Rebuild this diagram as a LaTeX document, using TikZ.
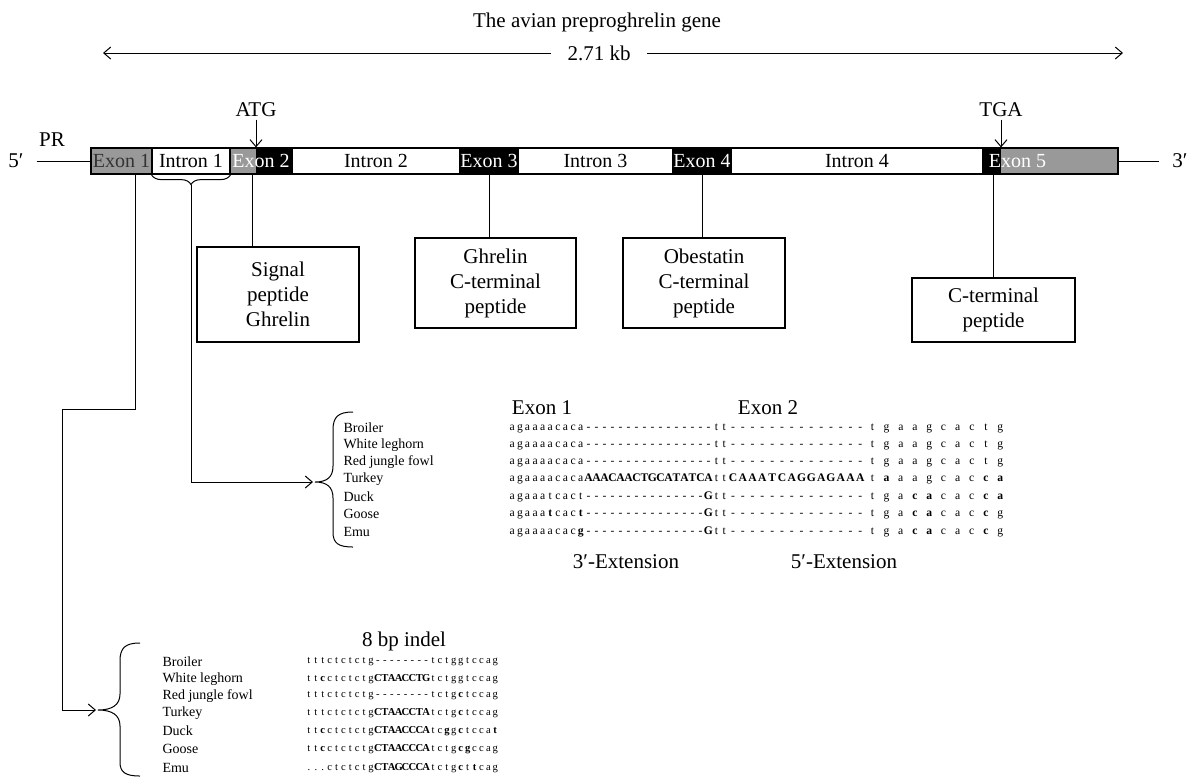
\documentclass[tikz,border=0pt]{standalone}
\usepackage{fontspec}
\setmainfont{Liberation Serif}
\usetikzlibrary{arrows.meta,decorations.pathreplacing}
\definecolor{exgray}{HTML}{999999}

% one character per fixed-width cell
\def\seqend{seqend}
\newcommand\seqs[2]{\def\seqw{#1}\seqloop#2\seqend}
\def\seqloop#1{\ifx\seqend#1\else\makebox[\seqw]{#1}\expandafter\seqloop\fi}
\newcommand\seqb[2]{\def\seqw{#1}\seqbloop#2\seqend}
\def\seqbloop#1{\ifx\seqend#1\else\makebox[\seqw]{\bfseries#1}\expandafter\seqbloop\fi}

\begin{document}
\begin{tikzpicture}[x=0.5pt,y=-0.5pt,line width=0.5pt,
  lbl/.style={font=\fontsize{10.5}{12.5}\selectfont},
  seg/.style={draw,line width=0.6pt,inner sep=0pt,minimum height=13pt,font=\fontsize{10}{12}\selectfont},
  pbox/.style={draw,line width=0.6pt,inner sep=0pt,align=center,lbl},
  arr/.style={-{Straight Barb[length=3.5pt,width=6pt]}},
  spname/.style={right,inner sep=0pt,font=\fontsize{7}{8}\selectfont},
  seqrow/.style={right,inner sep=0pt,font=\fontsize{5.8}{6}\selectfont},
  seqlow/.style={right,inner sep=0pt,font=\fontsize{5.3}{6}\selectfont}]
  \useasboundingbox (0,0) rectangle (1192,778);

  % title and gene length
  \node[lbl] (title) at (597,22) {The avian preproghrelin gene};
  \node[lbl,inner xsep=8pt] (len) at (599,53) {2.71 kb};
  \coordinate (lenl) at (103,53);
  \coordinate (lenr) at (1123,53);
  \draw[arr] (len.west) -- (lenl);
  \draw[arr] (len.east) -- (lenr);

  % gene bar
  \node[seg,fill=exgray,text=black!80,minimum width=30.5pt] (ex1) at (121.5,161) {Exon 1};
  \node[seg,minimum width=39pt] (in1) at (191,161) {Intron 1};
  \node[seg,fill=black,text=white,minimum width=31pt,
    path picture={\fill[exgray] (path picture bounding box.south west) rectangle ([xshift=13pt]path picture bounding box.north west);}] (ex2) at (261,161) {Exon 2};
  \node[seg,minimum width=84pt] (in2) at (376,161) {Intron 2};
  \node[seg,fill=black,text=white,minimum width=29pt] (ex3) at (489,161) {Exon 3};
  \node[seg,minimum width=77.5pt] (in3) at (595.5,161) {Intron 3};
  \node[seg,fill=black,text=white,minimum width=29pt] (ex4) at (702,161) {Exon 4};
  \node[seg,minimum width=126pt] (in4) at (857,161) {Intron 4};
  \node[seg,fill=exgray,minimum width=67.5pt,
    path picture={\fill[black] (path picture bounding box.south west) rectangle ([xshift=9pt]path picture bounding box.north west);}] (ex5) at (1050.5,161) {};
  \node[right,inner sep=0pt,text=white,font=\fontsize{10}{12}\selectfont] (ex5l) at ([xshift=3pt]ex5.west) {Exon 5};

  \node[lbl] (p5) at (16,161) {5′};
  \node[lbl] (p3) at (1180,161) {3′};
  \node[lbl] (pr) at (52,140) {PR};
  \draw ([xshift=3pt]p5.east) -- (ex1.west);
  \draw (ex5.east) -- ([xshift=-3pt]p3.west);

  \node[lbl,inner sep=1pt] (atg) at (256,110) {ATG};
  \node[lbl,inner sep=1pt] (tga) at (1001,110) {TGA};
  \draw[arr] (atg.south) -- (atg.south |- ex2.north);
  \draw[arr] (tga.south) -- (tga.south |- ex5.north);

  % peptide boxes
  \node[pbox,minimum width=81pt,minimum height=47.5pt] (sig) at (278,294.5) {Signal\\peptide\\Ghrelin};
  \node[pbox,minimum width=80.5pt,minimum height=45pt] (gh) at (495.5,283) {Ghrelin\\C-terminal\\peptide};
  \node[pbox,minimum width=81pt,minimum height=45pt] (ob) at (704,283) {Obestatin\\C-terminal\\peptide};
  \node[pbox,minimum width=81.5pt,minimum height=32pt] (ct) at (993.5,310) {C-terminal\\peptide};
  \draw ([xshift=-4.5pt]ex2.south) -- ([xshift=-4.5pt]ex2.south |- sig.north);
  \draw (ex3.south) -- (ex3.south |- gh.north);
  \draw (ex4.south) -- (ex4.south |- ob.north);
  \draw (ct.north |- ex5.south) -- (ct.north);

  % intron 1 brace to the upper alignment
  \draw[decorate,decoration={brace,mirror,amplitude=5pt}] (in1.south west) -- (in1.south east);
  \coordinate (in1tip) at ([yshift=-5pt]in1.south);
  \coordinate (ubt) at (315,482);
  \draw[arr] (in1tip) |- ([xshift=-1pt]ubt);
  \draw (353,412) .. controls (338,412) and (333,417) .. (333,430) -- (333,466)
    .. controls (333,477) and (327,482) .. (ubt)
    .. controls (327,482) and (333,487) .. (333,498) -- (333,532)
    .. controls (333,543) and (338,547) .. (353,547);

  % exon 1 line to the lower alignment
  \coordinate (bend) at (62,409);
  \coordinate (lbt) at (98,710);
  \draw[arr] ([xshift=6.75pt]ex1.south) |- (bend) |- ([xshift=-1pt]lbt);
  \draw (140,643) .. controls (125,643) and (120,648) .. (120,661) -- (120,694)
    .. controls (120,705) and (112,710) .. (lbt)
    .. controls (112,710) and (120,715) .. (120,726) -- (120,762)
    .. controls (120,772) and (125,776) .. (140,776);

  % upper alignment
  \node[lbl] (hex1) at (542,408) {Exon 1};
  \node[lbl] (hex2) at (768,408) {Exon 2};
  \node[lbl] (ext3) at (626,562) {3′-Extension};
  \node[lbl] (ext5) at (844,562) {5′-Extension};
  \foreach \n/\y in {Broiler/428,White leghorn/445,Red jungle fowl/462,Turkey/479,Duck/497,Goose/514,Emu/532}
    \node[spname] (u\y) at (343,\y) {\n};
  \node[seqrow] (ua) at (508,428) {\seqs{3.8pt}{agaaaacaca}\seqs{4pt}{----------------}\seqs{3.9pt}{tt}\seqs{4.9pt}{--------------}\seqs{7.1pt}{tgaagcactg}};
  \node[seqrow] (ub) at (508,445) {\seqs{3.8pt}{agaaaacaca}\seqs{4pt}{----------------}\seqs{3.9pt}{tt}\seqs{4.9pt}{--------------}\seqs{7.1pt}{tgaagcactg}};
  \node[seqrow] (uc) at (508,462) {\seqs{3.8pt}{agaaaacaca}\seqs{4pt}{----------------}\seqs{3.9pt}{tt}\seqs{4.9pt}{--------------}\seqs{7.1pt}{tgaagcactg}};
  \node[seqrow] (ud) at (508,479) {\seqs{3.8pt}{agaaaacaca}\seqb{4pt}{AAACAACTGCATATCA}\seqs{3.9pt}{tt}\seqb{4.9pt}{CAAATCAGGAGAAA}\seqs{7.1pt}{t{\bfseries a}aagcac{\bfseries c}{\bfseries a}}};
  \node[seqrow] (ue) at (508,497) {\seqs{3.8pt}{agaaatcact}\seqs{4pt}{---------------{\bfseries G}}\seqs{3.9pt}{tt}\seqs{4.9pt}{--------------}\seqs{7.1pt}{tga{\bfseries c}{\bfseries a}cac{\bfseries c}{\bfseries a}}};
  \node[seqrow] (uf) at (508,514) {\seqs{3.8pt}{agaaa{\bfseries t}cac{\bfseries t}}\seqs{4pt}{---------------{\bfseries G}}\seqs{3.9pt}{tt}\seqs{4.9pt}{--------------}\seqs{7.1pt}{tga{\bfseries c}{\bfseries a}cac{\bfseries c}g}};
  \node[seqrow] (ug) at (508,532) {\seqs{3.8pt}{agaaaacac{\bfseries g}}\seqs{4pt}{---------------{\bfseries G}}\seqs{3.9pt}{tt}\seqs{4.9pt}{--------------}\seqs{7.1pt}{tga{\bfseries c}{\bfseries a}cac{\bfseries c}g}};

  % lower alignment
  \node[lbl] (indel) at (404,641) {8 bp indel};
  \foreach \n/\y in {Broiler/662,White leghorn/679,Red jungle fowl/696,Turkey/713,Duck/731,Goose/749,Emu/768}
    \node[spname] (l\y) at (162,\y) {\n};
  \node[seqlow] (la) at (305,662) {\seqs{3.45pt}{tttctctctg--------tctggtccag}};
  \node[seqlow] (lb) at (305,679) {\seqs{3.45pt}{tt{\bfseries c}ctctctg}\seqb{3.45pt}{CTAACCTG}\seqs{3.45pt}{tctggtccag}};
  \node[seqlow] (lc) at (305,696) {\seqs{3.45pt}{tttctctctg--------tctg{\bfseries c}tccag}};
  \node[seqlow] (ld) at (305,713) {\seqs{3.45pt}{tttctctctg}\seqb{3.45pt}{CTAACCTA}\seqs{3.45pt}{tctg{\bfseries c}tccag}};
  \node[seqlow] (le) at (305,731) {\seqs{3.45pt}{tt{\bfseries c}ctctctg}\seqb{3.45pt}{CTAACCCA}\seqs{3.45pt}{tc{\bfseries g}g{\bfseries c}tcca{\bfseries t}}};
  \node[seqlow] (lf) at (305,749) {\seqs{3.45pt}{tt{\bfseries c}ctctctg}\seqb{3.45pt}{CTAACCCA}\seqs{3.45pt}{tctg{\bfseries c}{\bfseries g}ccag}};
  \node[seqlow] (lg) at (305,768) {\seqs{3.45pt}{...ctctctg}\seqb{3.45pt}{CTAGCCCA}\seqs{3.45pt}{tctg{\bfseries c}t{\bfseries t}cag}};
\end{tikzpicture}
\end{document}
